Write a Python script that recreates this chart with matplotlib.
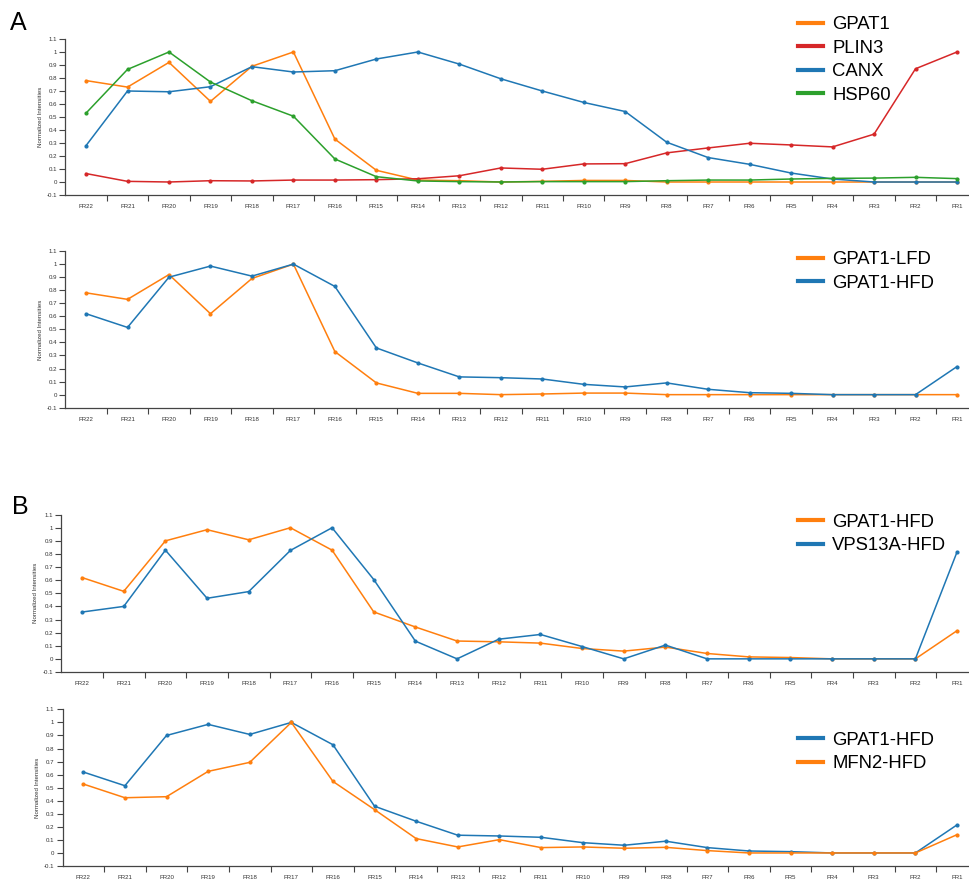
import matplotlib.pyplot as plt

plt.rcParams['font.family'] = ['Liberation Sans', 'DejaVu Sans']

fractions = ['FR%d' % i for i in range(22, 0, -1)]
y_ticks = [-0.1, 0, 0.1, 0.2, 0.3, 0.4, 0.5, 0.6, 0.7, 0.8, 0.9, 1, 1.1]
y_tick_labels = ['-0.1', '0', '0.1', '0.2', '0.3', '0.4', '0.5', '0.6', '0.7', '0.8', '0.9', '1', '1.1']

orange = '#ff7f0e'
red = '#d62728'
blue = '#1f77b4'
green = '#2ca02c'

# panel A, top
gpat1 = [0.78, 0.73, 0.92, 0.62, 0.89, 1.0, 0.33, 0.09, 0.015, 0.01, 0.0, 0.005,
         0.012, 0.012, 0.0, 0.0, 0.0, 0.0, 0.0, 0.0, 0.0, 0.0]
plin3 = [0.065, 0.005, 0.0, 0.01, 0.008, 0.015, 0.015, 0.018, 0.025, 0.048, 0.108, 0.098,
         0.139, 0.141, 0.224, 0.262, 0.298, 0.285, 0.27, 0.368, 0.871, 1.0]
canx = [0.28, 0.70, 0.694, 0.733, 0.887, 0.846, 0.856, 0.946, 1.0, 0.907, 0.794, 0.70,
        0.612, 0.542, 0.306, 0.188, 0.136, 0.069, 0.023, 0.0, 0.0, 0.0]
hsp60 = [0.53, 0.866, 1.0, 0.769, 0.625, 0.506, 0.177, 0.041, 0.008, 0.003, 0.0, 0.003,
         0.003, 0.003, 0.01, 0.015, 0.015, 0.023, 0.028, 0.03, 0.036, 0.026]

# panel A, bottom
gpat1_lfd = [0.78, 0.73, 0.92, 0.62, 0.89, 1.0, 0.33, 0.09, 0.01, 0.01, 0.0, 0.005,
             0.012, 0.012, 0.0, 0.0, 0.0, 0.0, 0.0, 0.0, 0.0, 0.0]
gpat1_hfd = [0.62, 0.515, 0.90, 0.985, 0.908, 1.0, 0.829, 0.358, 0.243, 0.136, 0.13, 0.12,
             0.079, 0.059, 0.09, 0.041, 0.015, 0.01, 0.0, 0.0, 0.0, 0.215]

# panel B
vps13a_hfd = [0.357, 0.40, 0.829, 0.462, 0.513, 0.827, 1.0, 0.605, 0.135, 0.0, 0.15, 0.186,
              0.094, 0.0, 0.105, 0.0, 0.0, 0.0, 0.0, 0.0, 0.0, 0.816]
mfn2_hfd = [0.528, 0.423, 0.431, 0.625, 0.694, 1.0, 0.548, 0.332, 0.11, 0.046, 0.102, 0.041,
            0.046, 0.036, 0.043, 0.018, 0.0, 0.0, 0.0, 0.0, 0.0, 0.14]

panels = [
    ([0.0674, 0.7784, 0.9416, 0.1773], [('GPAT1', gpat1, orange), ('PLIN3', plin3, red),
                                         ('CANX', canx, blue), ('HSP60', hsp60, green)]),
    ([0.0674, 0.5367, 0.9416, 0.1780], [('GPAT1-LFD', gpat1_lfd, orange),
                                         ('GPAT1-HFD', gpat1_hfd, blue)]),
    ([0.0632, 0.2364, 0.9460, 0.1788], [('GPAT1-HFD', gpat1_hfd, orange),
                                         ('VPS13A-HFD', vps13a_hfd, blue)]),
    ([0.0645, 0.0159, 0.9446, 0.1780], [('GPAT1-HFD', gpat1_hfd, blue),
                                         ('MFN2-HFD', mfn2_hfd, orange)]),
]
legend_tops = [0.9815, 0.7143, 0.4160, 0.1683]

fig = plt.figure(figsize=(9.69, 8.8), dpi=100)
x = list(range(len(fractions)))

for (rect, series), ltop in zip(panels, legend_tops):
    ax = fig.add_axes(rect)
    for name, vals, col in series:
        ax.plot(x, vals, color=col, lw=1.1, marker='o', ms=2.0, label=name)
    ax.set_xlim(-0.5, len(fractions) - 0.5)
    ax.set_ylim(-0.1, 1.1)
    ax.set_yticks(y_ticks)
    ax.set_yticklabels(y_tick_labels)
    # labels sit in the middle of each band, tick marks on the band edges
    ax.set_xticks([i + 0.5 for i in range(len(fractions) - 1)])
    ax.set_xticklabels([])
    ax.set_xticks(x, minor=True)
    ax.set_xticklabels(fractions, minor=True)
    ax.tick_params(axis='x', which='major', length=4, width=0.8, color='#444')
    ax.tick_params(axis='x', which='minor', length=0, pad=6.5, labelsize=4.4, labelcolor='#333')
    ax.tick_params(axis='y', length=4, width=0.8, color='#444', pad=2, labelsize=4.4, labelcolor='#333')
    for side in ('top', 'right'):
        ax.spines[side].set_visible(False)
    for side in ('left', 'bottom'):
        ax.spines[side].set_color('#444')
        ax.spines[side].set_linewidth(0.9)
    ax.set_ylabel('Normalized Intensities', fontsize=4.4, color='#333')
    ax.yaxis.set_label_coords(-0.025, 0.5)
    leg = ax.legend(loc='upper left', bbox_to_anchor=(0.8236, ltop), bbox_transform=fig.transFigure,
                    frameon=False, fontsize=13.3, handlelength=1.35, handletextpad=0.49,
                    labelspacing=0.35, borderpad=0, borderaxespad=0)
    for h in leg.get_lines():
        h.set_linewidth(3)
        h.set_marker('')

fig.text(0.010, 0.966, 'A', fontsize=18)
fig.text(0.012, 0.416, 'B', fontsize=18)

fig.savefig('out.png', dpi=100)
